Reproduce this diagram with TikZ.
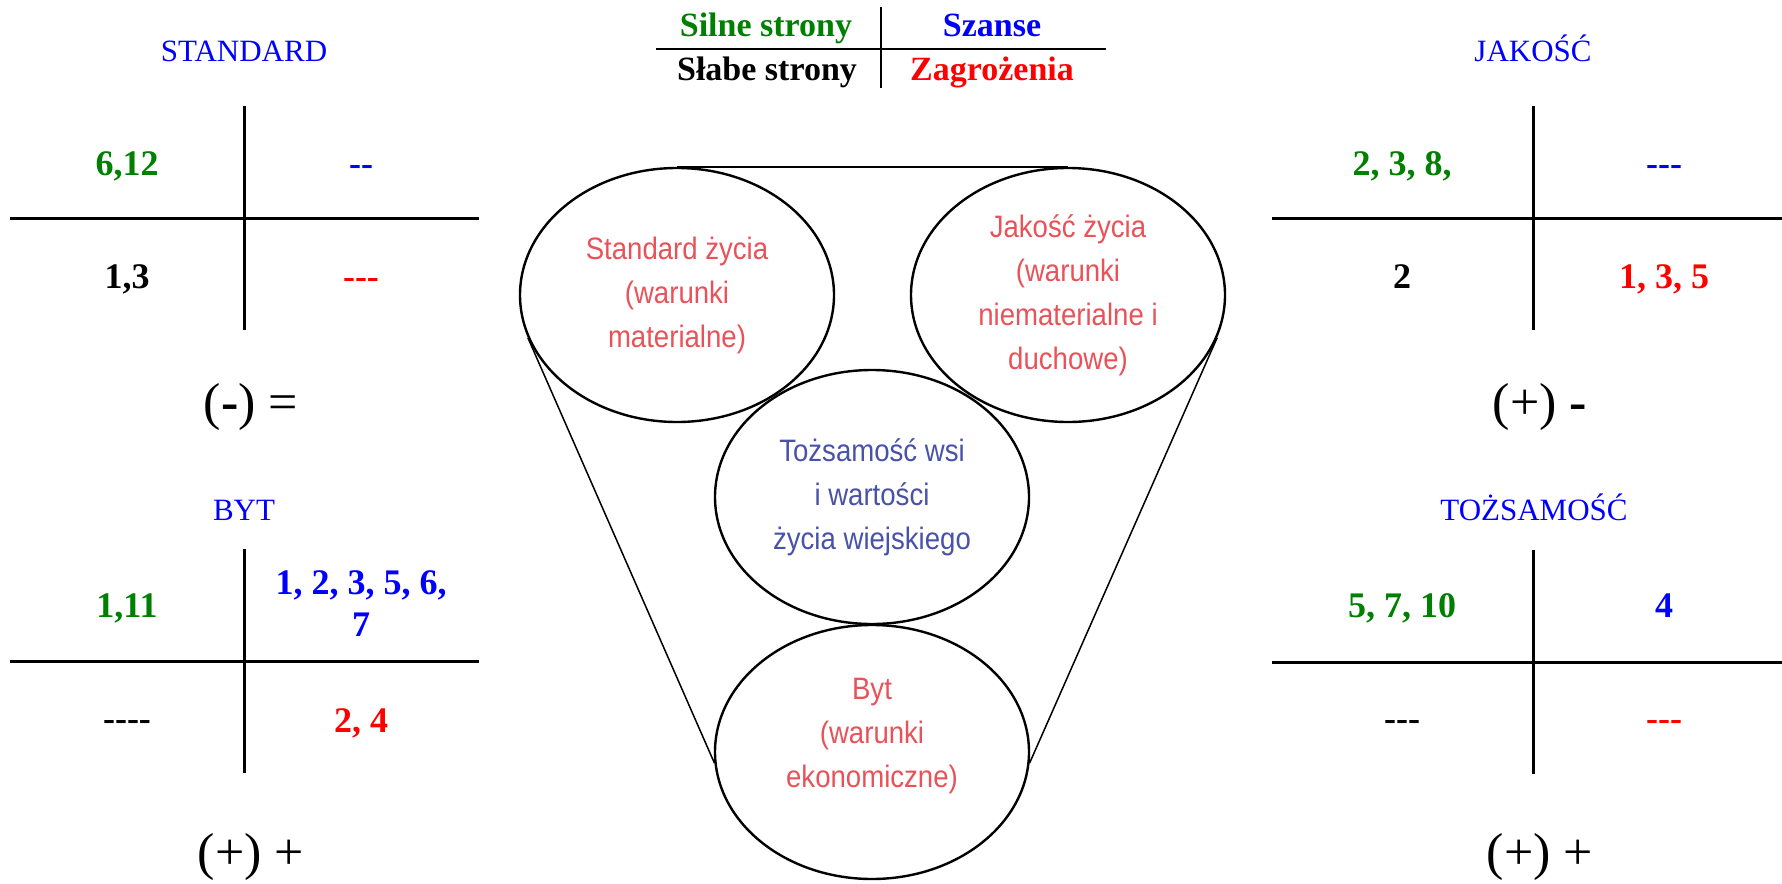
\documentclass[tikz,border=0pt]{standalone}
\usepackage{fontspec}
\setmainfont{Liberation Serif}
\newfontfamily\bullefont[FakeStretch=0.89]{Liberation Sans}
\usetikzlibrary{shapes.geometric}
\definecolor{vert}{RGB}{0,128,0}
\definecolor{bleu}{RGB}{0,0,255}
\definecolor{rouge}{RGB}{255,0,0}
\definecolor{rose}{RGB}{232,82,88}
\definecolor{bleugris}{RGB}{72,82,168}

\begin{document}
\begin{tikzpicture}[x=1pt,y=-1pt]
\tikzset{
	titre/.style={font=\fontsize{31}{36}\selectfont, text=bleu, anchor=base, inner sep=0pt},
	nombre/.style={font=\fontsize{36}{42}\selectfont\bfseries, anchor=base, inner sep=0pt, align=center},
	bilan/.style={font=\fontsize{52}{60}\selectfont, anchor=base, inner sep=0pt},
	legende/.style={font=\fontsize{34}{40}\selectfont\bfseries, anchor=base, inner sep=0pt},
	bulle/.style={ellipse, draw, line width=2.4pt, minimum width=314pt, minimum height=254pt,
		inner sep=0pt, align=center, font=\bullefont\fontsize{31}{44}\selectfont},
	trait/.style={line width=3pt}
}
  \useasboundingbox (0,0) rectangle (1782,883);

 % la légende en haut
  \draw[line width=2pt] (656,49) -- (1106,49);
  \draw[line width=2pt] (881,7) -- (881,88);
  \node[legende, text=vert] (lforce) at (766,37) {Silne strony};
  \node[legende, text=bleu] (lchance) at (992,37) {Szanse};
  \node[legende] (lfaible) at (767,81) {Słabe strony};
  \node[legende, text=rouge] (lmenace) at (992,81) {Zagrożenia};

 % les quatre tableaux
  \foreach \cx/\cy/\xa/\xb in {244/218/10/479, 244/661/10/479, 1533/218/1272/1782, 1533/662/1272/1782}{
    \draw[trait] (\xa,\cy) -- (\xb,\cy);
    \draw[trait] (\cx,{\cy-112}) -- (\cx,{\cy+112});
  }

 % les bulles au centre
  \node[bulle, text=rose] (sl) at (677,295) {Standard życia\\(warunki\\materialne)};
  \node[bulle, text=rose] (jz) at (1068,295) {Jakość życia\\(warunki\\niematerialne i\\duchowe)};
  \node[bulle, text=bleugris] (tw) at (872,497) {Tożsamość wsi\\i wartości\\życia wiejskiego};
  \node[bulle, text=rose, text depth=38pt] (byt) at (872,752) {Byt\\(warunki\\ekonomiczne)};
  \draw[line width=2.4pt] (sl.north) -- (jz.north);
  \draw[line width=1.5pt] (sl.196) -- (byt.184);
  \draw[line width=1.5pt] (jz.-16) -- (byt.-4);

 % du texte : STANDARD
  \node[titre] (tstd) at (244,62) {STANDARD};
  \node[nombre, text=vert] (std1) at (127,175) {6,12};
  \node[nombre, text=bleu] (std2) at (361,175) {-{}-};
  \node[nombre] (std3) at (127,288) {1,3};
  \node[nombre, text=rouge] (std4) at (361,288) {-{}-{}-};
  \node[bilan] (bstd) at (251,419) {({\bfseries -}) =};

 % BYT
  \node[titre] (tbyt) at (244,520) {BYT};
  \node[nombre, text=vert] (byt1) at (127,617) {1,11};
  \node[nombre, text=bleu, anchor=center] (byt2) at (361,604) {1, 2, 3, 5, 6,\\7};
  \node[nombre] (byt3) at (127,730) {-{}-{}-{}-};
  \node[nombre, text=rouge] (byt4) at (361,732) {2, 4};
  \node[bilan] (bbyt) at (251,869) {(+) +};

 % JAKOŚĆ
  \node[titre] (tjak) at (1533,62) {JAKOŚĆ};
  \node[nombre, text=vert] (jak1) at (1402,175) {2, 3, 8,};
  \node[nombre, text=bleu] (jak2) at (1664,175) {-{}-{}-};
  \node[nombre] (jak3) at (1402,288) {2};
  \node[nombre, text=rouge] (jak4) at (1664,288) {1, 3, 5};
  \node[bilan] (bjak) at (1540,419) {(+) {\bfseries -}};

 % TOŻSAMOŚĆ
  \node[titre] (ttoz) at (1534,520) {TOŻSAMOŚĆ};
  \node[nombre, text=vert] (toz1) at (1402,617) {5, 7, 10};
  \node[nombre, text=bleu] (toz2) at (1664,617) {4};
  \node[nombre] (toz3) at (1402,730) {-{}-{}-};
  \node[nombre, text=rouge] (toz4) at (1664,730) {-{}-{}-};
  \node[bilan] (btoz) at (1540,869) {(+) +};
\end{tikzpicture}
\end{document}
